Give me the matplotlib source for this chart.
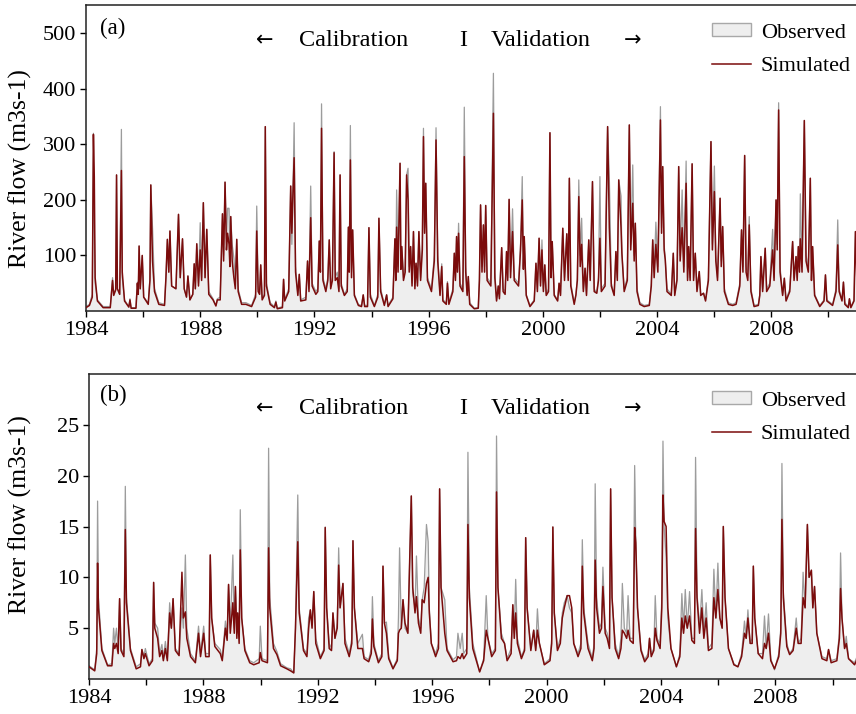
import matplotlib
matplotlib.use("Agg")
import matplotlib.pyplot as plt
from matplotlib.patches import Patch
from matplotlib.lines import Line2D

plt.rcParams["font.family"] = ["Liberation Serif", "DejaVu Serif"]

# panel (a): hydrograph vertices (decimal year, m3/s)
a_year = [
    1984.00, 1984.12, 1984.22, 1984.26, 1984.29, 1984.32, 1984.40, 1984.60,
    1984.85, 1984.93, 1984.97, 1985.04, 1985.07, 1985.10, 1985.18, 1985.24,
    1985.27, 1985.35, 1985.50, 1985.54, 1985.58, 1985.75, 1985.80, 1985.83,
    1985.86, 1985.90, 1985.97, 1986.02, 1986.18, 1986.24, 1986.27, 1986.33,
    1986.40, 1986.55, 1986.75, 1986.80, 1986.85, 1986.90, 1986.94, 1987.00,
    1987.15, 1987.24, 1987.30, 1987.38, 1987.44, 1987.52, 1987.57, 1987.64,
    1987.74, 1987.79, 1987.83, 1987.88, 1987.94, 1988.00, 1988.05, 1988.11,
    1988.17, 1988.23, 1988.30, 1988.45, 1988.55, 1988.60, 1988.70, 1988.78,
    1988.82, 1988.87, 1988.92, 1988.96, 1989.01, 1989.04, 1989.07, 1989.12,
    1989.18, 1989.23, 1989.28, 1989.33, 1989.45, 1989.60, 1989.80, 1989.94,
    1989.98, 1990.03, 1990.08, 1990.12, 1990.17, 1990.25, 1990.28, 1990.32,
    1990.45, 1990.60, 1990.65, 1990.70, 1990.88, 1990.92, 1990.96, 1991.10,
    1991.17, 1991.21, 1991.25, 1991.29, 1991.34, 1991.42, 1991.47, 1991.52,
    1991.70, 1991.76, 1991.81, 1991.87, 1991.92, 1992.05, 1992.12, 1992.17,
    1992.21, 1992.25, 1992.30, 1992.40, 1992.47, 1992.52, 1992.57, 1992.63,
    1992.69, 1992.73, 1992.80, 1992.86, 1992.90, 1992.94, 1993.05, 1993.15,
    1993.19, 1993.22, 1993.26, 1993.30, 1993.34, 1993.40, 1993.54, 1993.65,
    1993.71, 1993.76, 1993.86, 1993.91, 1993.96, 1994.10, 1994.22, 1994.26,
    1994.32, 1994.45, 1994.53, 1994.58, 1994.75, 1994.82, 1994.85, 1994.88,
    1994.93, 1995.00, 1995.03, 1995.06, 1995.12, 1995.18, 1995.23, 1995.28,
    1995.32, 1995.37, 1995.42, 1995.47, 1995.52, 1995.56, 1995.61, 1995.66,
    1995.72, 1995.78, 1995.82, 1995.86, 1995.90, 1995.96, 1996.10, 1996.20,
    1996.26, 1996.32, 1996.40, 1996.46, 1996.50, 1996.62, 1996.66, 1996.71,
    1996.85, 1996.90, 1996.94, 1996.98, 1997.01, 1997.05, 1997.10, 1997.20,
    1997.25, 1997.30, 1997.35, 1997.39, 1997.44, 1997.60, 1997.74, 1997.78,
    1997.82, 1997.87, 1997.92, 1997.96, 1998.00, 1998.05, 1998.18, 1998.27,
    1998.32, 1998.38, 1998.44, 1998.48, 1998.56, 1998.61, 1998.68, 1998.73,
    1998.77, 1998.82, 1998.87, 1998.94, 1999.00, 1999.15, 1999.22, 1999.28,
    1999.32, 1999.35, 1999.42, 1999.55, 1999.70, 1999.76, 1999.81, 1999.87,
    1999.92, 1999.97, 2000.02, 2000.07, 2000.12, 2000.20, 2000.25, 2000.29,
    2000.33, 2000.40, 2000.52, 2000.57, 2000.62, 2000.70, 2000.76, 2000.84,
    2000.89, 2000.93, 2000.98, 2001.10, 2001.16, 2001.21, 2001.26, 2001.31,
    2001.36, 2001.42, 2001.48, 2001.53, 2001.61, 2001.66, 2001.74, 2001.80,
    2001.89, 2001.95, 2002.00, 2002.05, 2002.18, 2002.27, 2002.33, 2002.40,
    2002.50, 2002.56, 2002.61, 2002.66, 2002.74, 2002.77, 2002.85, 2002.96,
    2003.03, 2003.08, 2003.15, 2003.20, 2003.24, 2003.30, 2003.40, 2003.55,
    2003.73, 2003.80, 2003.85, 2003.90, 2003.96, 2004.03, 2004.12, 2004.16,
    2004.20, 2004.25, 2004.29, 2004.35, 2004.50, 2004.57, 2004.62, 2004.70,
    2004.76, 2004.81, 2004.88, 2004.94, 2005.02, 2005.07, 2005.11, 2005.16,
    2005.23, 2005.28, 2005.34, 2005.40, 2005.48, 2005.53, 2005.63, 2005.70,
    2005.80, 2005.89, 2005.94, 2006.01, 2006.06, 2006.12, 2006.21, 2006.25,
    2006.30, 2006.36, 2006.50, 2006.65, 2006.77, 2006.90, 2006.96, 2007.01,
    2007.07, 2007.12, 2007.18, 2007.23, 2007.29, 2007.40, 2007.55, 2007.60,
    2007.64, 2007.70, 2007.79, 2007.84, 2007.95, 2008.05, 2008.10, 2008.17,
    2008.21, 2008.26, 2008.31, 2008.40, 2008.46, 2008.52, 2008.65, 2008.75,
    2008.80, 2008.87, 2008.91, 2008.95, 2008.99, 2009.02, 2009.08, 2009.16,
    2009.22, 2009.30, 2009.37, 2009.41, 2009.45, 2009.52, 2009.70, 2009.85,
    2009.90, 2009.95, 2010.15, 2010.27, 2010.33, 2010.38, 2010.48, 2010.53,
    2010.58, 2010.70, 2010.74, 2010.79, 2010.90, 2010.95, 2011.00,
]
a_obs = [
    8, 12, 30, 320, 150, 50, 20, 8,
    8, 60, 30, 40, 245, 40, 30, 327,
    60, 20, 8, 22, 6, 6, 52, 30,
    117, 40, 100, 25, 15, 60, 227, 150,
    40, 15, 12, 60, 129, 70, 144, 45,
    40, 174, 60, 130, 40, 25, 63, 20,
    30, 85, 40, 121, 50, 159, 60, 195,
    60, 147, 35, 22, 10, 22, 25, 175,
    100, 232, 130, 185, 185, 110, 170, 120,
    95, 50, 129, 40, 15, 15, 10, 30,
    189, 40, 30, 83, 25, 30, 332, 50,
    15, 8, 18, 5, 8, 57, 20, 40,
    225, 120, 215, 339, 80, 30, 66, 20,
    25, 90, 40, 225, 50, 35, 40, 126,
    80, 373, 60, 40, 60, 128, 45, 60,
    287, 60, 70, 40, 245, 50, 30, 40,
    151, 80, 334, 70, 146, 30, 12, 10,
    29, 10, 10, 150, 30, 10, 30, 167,
    40, 12, 29, 10, 25, 130, 60, 218,
    80, 266, 80, 116, 60, 80, 245, 257,
    80, 116, 50, 143, 45, 86, 50, 143,
    60, 120, 329, 150, 230, 60, 40, 100,
    330, 100, 30, 85, 20, 15, 53, 15,
    40, 104, 60, 134, 80, 158, 50, 40,
    367, 80, 30, 62, 15, 5, 6, 60,
    191, 80, 155, 80, 190, 60, 50, 428,
    70, 20, 45, 25, 114, 40, 35, 107,
    60, 201, 70, 184, 60, 50, 120, 242,
    80, 134, 30, 10, 20, 86, 40, 131,
    50, 128, 40, 83, 30, 40, 321, 70,
    125, 30, 20, 50, 30, 149, 60, 139,
    60, 239, 50, 15, 29, 60, 236, 100,
    167, 40, 77, 30, 128, 60, 233, 40,
    32, 60, 242, 40, 50, 332, 239, 50,
    30, 107, 60, 236, 207, 104, 40, 60,
    335, 120, 263, 100, 158, 40, 15, 10,
    12, 50, 128, 70, 160, 80, 368, 150,
    260, 120, 92, 40, 30, 104, 30, 60,
    260, 100, 218, 80, 270, 60, 116, 60,
    265, 60, 104, 40, 71, 30, 32, 20,
    60, 305, 120, 261, 100, 60, 203, 90,
    152, 40, 15, 12, 15, 50, 146, 80,
    280, 80, 60, 170, 40, 10, 12, 30,
    98, 40, 113, 40, 50, 147, 60, 200,
    120, 375, 80, 30, 59, 20, 40, 125,
    60, 98, 60, 116, 80, 211, 80, 343,
    100, 80, 239, 60, 116, 30, 10, 20,
    65, 20, 12, 40, 164, 40, 20, 52,
    15, 8, 22, 8, 20, 143, 60,
]
a_sim = [
    6, 10, 25, 318, 242, 60, 18, 6,
    6, 55, 28, 38, 245, 40, 30, 253,
    70, 18, 7, 20, 5, 5, 50, 30,
    117, 40, 100, 25, 12, 55, 227, 90,
    35, 12, 10, 60, 129, 70, 144, 45,
    40, 174, 60, 130, 40, 25, 63, 20,
    30, 85, 40, 121, 45, 110, 55, 195,
    60, 147, 30, 20, 9, 20, 20, 175,
    90, 232, 110, 140, 120, 80, 170, 90,
    60, 40, 129, 35, 12, 12, 8, 25,
    144, 35, 30, 83, 20, 28, 332, 45,
    12, 6, 16, 4, 6, 57, 18, 35,
    225, 140, 215, 276, 70, 28, 66, 18,
    20, 90, 35, 168, 45, 30, 35, 126,
    70, 329, 55, 35, 55, 128, 40, 55,
    285, 55, 60, 35, 245, 45, 28, 35,
    151, 70, 272, 60, 146, 28, 10, 8,
    29, 8, 8, 150, 25, 8, 25, 167,
    35, 10, 29, 8, 22, 130, 55, 151,
    70, 266, 75, 116, 55, 70, 245, 200,
    70, 116, 45, 143, 40, 86, 45, 143,
    55, 110, 314, 140, 230, 55, 35, 90,
    308, 90, 28, 80, 18, 12, 50, 12,
    35, 104, 55, 134, 70, 140, 45, 35,
    278, 70, 28, 62, 12, 4, 5, 55,
    191, 70, 155, 70, 190, 55, 45, 356,
    60, 18, 45, 22, 114, 35, 30, 107,
    55, 201, 60, 143, 55, 45, 110, 200,
    75, 134, 28, 8, 18, 86, 35, 131,
    45, 110, 35, 83, 28, 35, 321, 60,
    125, 28, 18, 50, 28, 149, 55, 139,
    55, 239, 45, 12, 29, 55, 206, 80,
    120, 35, 77, 28, 128, 55, 233, 35,
    32, 55, 131, 35, 45, 332, 150, 45,
    28, 107, 55, 236, 150, 104, 35, 55,
    335, 110, 194, 90, 158, 35, 12, 8,
    10, 45, 128, 60, 120, 70, 344, 140,
    260, 110, 92, 35, 28, 104, 28, 55,
    260, 90, 150, 70, 230, 55, 116, 55,
    265, 55, 104, 35, 71, 28, 32, 18,
    55, 305, 110, 215, 90, 55, 203, 80,
    152, 35, 12, 10, 12, 45, 146, 70,
    280, 70, 55, 155, 35, 8, 10, 28,
    98, 35, 113, 35, 45, 110, 55, 200,
    110, 362, 70, 28, 59, 18, 35, 125,
    55, 98, 55, 116, 70, 130, 70, 343,
    90, 70, 239, 55, 116, 28, 8, 18,
    65, 18, 10, 35, 119, 35, 18, 52,
    12, 6, 22, 6, 18, 143, 55,
]

# panel (b)
b_year = [
    1984.00, 1984.20, 1984.27, 1984.30, 1984.33, 1984.45, 1984.65, 1984.80,
    1984.86, 1984.90, 1984.96, 1985.02, 1985.07, 1985.12, 1985.22, 1985.27,
    1985.31, 1985.45, 1985.65, 1985.80, 1985.85, 1985.92, 1985.97, 1986.10,
    1986.22, 1986.26, 1986.30, 1986.40, 1986.47, 1986.55, 1986.60, 1986.67,
    1986.74, 1986.82, 1986.88, 1986.94, 1987.02, 1987.15, 1987.25, 1987.30,
    1987.37, 1987.42, 1987.55, 1987.72, 1987.83, 1987.90, 1988.01, 1988.08,
    1988.20, 1988.24, 1988.29, 1988.40, 1988.59, 1988.66, 1988.77, 1988.83,
    1988.88, 1988.94, 1989.03, 1989.08, 1989.12, 1989.17, 1989.20, 1989.25,
    1989.29, 1989.34, 1989.45, 1989.62, 1989.76, 1989.95, 1989.99, 1990.05,
    1990.24, 1990.28, 1990.32, 1990.45, 1990.57, 1990.70, 1990.92, 1991.05,
    1991.16, 1991.22, 1991.30, 1991.35, 1991.50, 1991.62, 1991.68, 1991.74,
    1991.80, 1991.86, 1991.93, 1992.09, 1992.22, 1992.26, 1992.31, 1992.40,
    1992.48, 1992.53, 1992.60, 1992.68, 1992.73, 1992.78, 1992.88, 1992.95,
    1993.10, 1993.19, 1993.23, 1993.28, 1993.40, 1993.56, 1993.62, 1993.78,
    1993.87, 1993.91, 1993.96, 1994.12, 1994.24, 1994.28, 1994.33, 1994.40,
    1994.48, 1994.63, 1994.78, 1994.82, 1994.86, 1994.92, 1994.98, 1995.05,
    1995.15, 1995.27, 1995.32, 1995.40, 1995.45, 1995.52, 1995.60, 1995.65,
    1995.72, 1995.80, 1995.86, 1995.90, 1995.97, 1996.12, 1996.22, 1996.26,
    1996.31, 1996.44, 1996.52, 1996.73, 1996.85, 1996.90, 1996.98, 1997.05,
    1997.10, 1997.21, 1997.25, 1997.30, 1997.42, 1997.66, 1997.80, 1997.89,
    1997.95, 1998.08, 1998.21, 1998.25, 1998.30, 1998.42, 1998.53, 1998.62,
    1998.76, 1998.82, 1998.87, 1998.92, 1998.98, 1999.12, 1999.23, 1999.27,
    1999.32, 1999.45, 1999.55, 1999.62, 1999.68, 1999.75, 1999.92, 2000.12,
    2000.18, 2000.22, 2000.27, 2000.38, 2000.48, 2000.55, 2000.62, 2000.72,
    2000.80, 2000.88, 2000.95, 2001.10, 2001.20, 2001.25, 2001.30, 2001.45,
    2001.60, 2001.66, 2001.70, 2001.75, 2001.85, 2001.92, 2001.97, 2002.05,
    2002.12, 2002.20, 2002.24, 2002.29, 2002.40, 2002.52, 2002.60, 2002.65,
    2002.72, 2002.80, 2002.85, 2002.92, 2003.03, 2003.08, 2003.12, 2003.18,
    2003.30, 2003.43, 2003.55, 2003.60, 2003.66, 2003.75, 2003.80, 2003.86,
    2003.97, 2004.03, 2004.07, 2004.11, 2004.18, 2004.24, 2004.35, 2004.54,
    2004.66, 2004.73, 2004.79, 2004.85, 2004.92, 2005.00, 2005.08, 2005.17,
    2005.21, 2005.26, 2005.35, 2005.43, 2005.50, 2005.58, 2005.66, 2005.78,
    2005.85, 2005.92, 2005.99, 2006.06, 2006.14, 2006.18, 2006.24, 2006.36,
    2006.55, 2006.69, 2006.82, 2006.92, 2006.98, 2007.04, 2007.12, 2007.19,
    2007.23, 2007.28, 2007.40, 2007.55, 2007.62, 2007.68, 2007.76, 2007.84,
    2007.97, 2008.12, 2008.19, 2008.23, 2008.28, 2008.40, 2008.50, 2008.62,
    2008.73, 2008.80, 2008.90, 2008.97, 2009.04, 2009.12, 2009.18, 2009.26,
    2009.31, 2009.37, 2009.45, 2009.63, 2009.80, 2009.86, 2009.95, 2010.15,
    2010.24, 2010.28, 2010.33, 2010.42, 2010.48, 2010.56, 2010.77, 2010.90,
    2010.97, 2011.00,
]
b_obs = [
    1.3, 0.9, 3.0, 17.5, 8.0, 3.0, 1.4, 1.5,
    5.0, 3.5, 5.0, 3.0, 7.9, 3.0, 2.5, 18.95,
    8.0, 3.0, 1.2, 1.5, 2.9, 2.2, 3.0, 1.5,
    2.0, 9.5, 5.5, 5.0, 2.5, 3.4, 2.0, 3.7,
    2.0, 7.5, 5.0, 7.9, 3.0, 2.5, 7.0, 5.0,
    12.2, 5.0, 2.5, 1.8, 5.2, 2.5, 5.2, 2.5,
    2.5, 12.2, 6.0, 3.5, 2.9, 2.0, 5.7, 4.0,
    9.3, 5.0, 12.2, 5.0, 9.1, 4.5, 6.5, 4.0,
    16.65, 6.0, 3.0, 1.8, 1.6, 2.0, 5.2, 2.0,
    1.8, 22.7, 8.0, 3.5, 2.7, 1.5, 1.1, 1.0,
    0.6, 5.0, 18.1, 7.0, 3.0, 2.5, 6.0, 6.8,
    5.5, 8.6, 4.0, 2.2, 3.0, 14.95, 7.0, 3.5,
    3.0, 6.5, 4.0, 5.5, 12.9, 7.0, 9.4, 4.0,
    2.5, 4.0, 13.6, 7.0, 3.5, 4.4, 2.2, 1.9,
    3.0, 8.1, 3.5, 1.8, 2.5, 11.1, 5.5, 5.6,
    2.2, 1.1, 2.0, 6.0, 12.9, 5.0, 7.8, 5.0,
    4.5, 18.0, 8.5, 7.0, 12.1, 6.0, 5.0, 7.8,
    9.0, 15.2, 13.5, 7.0, 3.5, 2.5, 3.5, 18.7,
    9.0, 7.8, 3.0, 1.9, 2.2, 4.5, 3.0, 4.5,
    2.5, 3.0, 22.3, 9.0, 3.5, 0.7, 2.0, 8.2,
    4.0, 2.5, 3.0, 23.9, 9.0, 4.5, 3.5, 2.0,
    3.0, 7.3, 4.5, 9.8, 4.0, 2.2, 3.0, 13.9,
    7.0, 3.0, 4.8, 3.0, 6.9, 3.5, 1.5, 2.0,
    4.0, 14.95, 6.5, 3.0, 4.0, 6.5, 7.5, 8.2,
    7.0, 6.5, 3.5, 2.5, 3.5, 13.7, 7.0, 3.5,
    2.0, 3.5, 19.2, 8.0, 5.0, 5.5, 11.0, 5.0,
    4.5, 3.5, 18.7, 8.0, 3.5, 2.2, 4.0, 9.4,
    5.0, 4.5, 8.2, 4.0, 4.0, 21.0, 13.4, 7.0,
    3.0, 1.9, 2.5, 4.0, 2.5, 3.0, 8.2, 4.0,
    3.5, 8.0, 23.4, 15.0, 12.0, 6.0, 3.0, 1.2,
    2.5, 8.4, 5.0, 8.8, 5.0, 8.6, 4.0, 4.0,
    21.8, 8.5, 5.0, 8.8, 4.5, 7.5, 3.0, 3.5,
    10.8, 6.0, 11.4, 6.0, 5.0, 15.0, 8.0, 3.0,
    1.5, 1.2, 2.5, 5.7, 4.0, 6.8, 3.5, 4.0,
    11.1, 6.0, 2.5, 2.5, 6.2, 3.0, 6.4, 2.0,
    0.9, 2.5, 5.0, 21.2, 8.5, 3.5, 2.5, 3.0,
    6.0, 3.5, 4.0, 10.5, 7.0, 15.2, 10.0, 10.7,
    7.0, 9.1, 4.5, 2.2, 2.0, 2.9, 1.8, 2.0,
    4.5, 12.4, 6.0, 3.0, 4.2, 2.0, 1.6, 2.5,
    5.0, 3.5,
]
b_sim = [
    1.2, 0.8, 2.5, 11.4, 7.0, 2.8, 1.3, 1.3,
    3.5, 3.0, 3.5, 2.5, 7.9, 2.8, 2.2, 14.7,
    7.5, 2.8, 1.0, 1.2, 2.9, 2.0, 2.5, 1.3,
    1.8, 9.5, 5.0, 4.0, 2.2, 2.8, 1.8, 3.0,
    1.8, 6.5, 5.0, 7.9, 2.8, 2.3, 10.5, 6.0,
    6.6, 4.0, 2.2, 1.6, 4.5, 2.2, 4.5, 2.2,
    2.2, 12.2, 6.0, 3.2, 2.5, 1.8, 5.0, 3.8,
    9.3, 4.5, 7.5, 4.5, 9.1, 4.0, 6.5, 3.5,
    12.7, 6.0, 2.8, 1.6, 1.4, 1.6, 2.6, 1.8,
    1.6, 12.9, 7.0, 3.0, 2.4, 1.3, 1.0, 0.8,
    0.6, 5.0, 13.5, 6.5, 2.8, 2.2, 5.0, 6.8,
    5.0, 8.6, 3.5, 2.0, 2.8, 14.9, 7.0, 3.0,
    2.8, 6.5, 4.0, 5.0, 11.2, 7.0, 9.4, 3.5,
    2.2, 3.5, 13.6, 7.0, 3.0, 3.0, 2.0, 1.7,
    2.5, 5.9, 3.2, 1.6, 2.2, 11.1, 5.5, 4.5,
    2.0, 1.0, 1.8, 4.5, 4.8, 5.0, 7.8, 5.5,
    4.5, 18.0, 9.0, 6.5, 8.1, 5.5, 4.5, 7.8,
    7.5, 9.4, 10.0, 6.5, 3.5, 2.2, 3.0, 18.7,
    9.0, 4.5, 2.8, 1.7, 1.8, 2.2, 2.0, 2.5,
    2.0, 2.5, 15.2, 8.0, 3.0, 0.7, 1.8, 4.8,
    4.0, 2.2, 2.8, 18.4, 9.0, 4.0, 3.5, 1.8,
    2.5, 7.3, 4.0, 6.5, 3.5, 2.0, 2.8, 13.9,
    7.0, 2.8, 4.8, 2.8, 4.8, 3.5, 1.4, 1.8,
    3.5, 14.95, 6.5, 2.8, 3.5, 6.0, 7.0, 8.2,
    8.2, 7.0, 3.5, 2.2, 3.0, 11.1, 6.5, 3.0,
    1.8, 3.0, 11.7, 7.0, 4.5, 5.0, 9.1, 4.5,
    4.0, 3.0, 18.7, 8.0, 3.0, 2.0, 3.0, 4.8,
    4.5, 4.0, 4.8, 3.8, 3.5, 14.9, 13.4, 7.0,
    2.8, 1.7, 2.2, 4.0, 2.2, 2.8, 5.0, 3.8,
    3.0, 7.0, 18.1, 15.5, 15.0, 7.0, 3.0, 1.2,
    2.2, 6.0, 4.5, 6.2, 5.0, 6.2, 3.8, 3.5,
    14.8, 8.0, 4.5, 7.0, 4.0, 6.0, 2.8, 3.0,
    8.0, 6.0, 8.8, 6.0, 5.0, 15.0, 8.0, 3.0,
    1.4, 1.2, 2.2, 4.5, 4.0, 6.0, 3.5, 3.5,
    11.1, 6.0, 2.5, 2.0, 3.5, 3.0, 4.5, 1.8,
    1.0, 2.2, 4.5, 15.7, 8.0, 3.2, 2.4, 2.8,
    5.0, 3.5, 3.5, 8.0, 7.0, 15.2, 10.0, 10.7,
    7.0, 9.1, 4.5, 2.0, 1.8, 2.9, 1.6, 1.8,
    4.0, 8.9, 6.0, 3.0, 3.5, 2.0, 1.4, 2.2,
    4.5, 3.0,
]

a_yticks = [100, 200, 300, 400, 500]
b_yticks = [5, 10, 15, 20, 25]
x_ticks = list(range(1984, 2011, 2))
x_labels = [str(y) if (y - 1984) % 4 == 0 else "" for y in x_ticks]

OBS_FILL = "#eeeeee"
OBS_LINE = "#9c9c9c"
SIM_COLOR = "#7b0c0c"

W, H = 856, 714


def fx(px):
    return px / W


def fy(py):
    return 1 - py / H


def plot_panel(ax, year, obs, sim, ymax, yticks, xmax):
    assert len(year) == len(obs) == len(sim)
    ax.fill_between(year, 0, obs, color=OBS_FILL, lw=0, zorder=1)
    ax.plot(year, obs, color=OBS_LINE, lw=0.9, zorder=2)
    ax.plot(year, sim, color=SIM_COLOR, lw=1.1, zorder=3)
    ax.set_xlim(1984, xmax)
    ax.set_ylim(0, ymax)
    ax.set_yticks(yticks)
    ax.set_xticks(x_ticks)
    ax.set_xticklabels(x_labels)
    ax.tick_params(direction="out", length=4, width=1, labelsize=16, pad=3)
    ax.spines["right"].set_visible(False)
    for s in ("left", "bottom", "top"):
        ax.spines[s].set_linewidth(1.1)
        ax.spines[s].set_color("#222222")
    ax.set_ylabel("River flow (m3s-1)", fontsize=18.5)


def annotate(ax, tag, tag_y, text_y, legend_top):
    fig.text(fx(100), fy(tag_y), tag, fontsize=16.5, va="center")
    for x, s in [(354, "Calibration"), (463, "I"), (541, "Validation")]:
        fig.text(fx(x), fy(text_y), s, fontsize=17.5, ha="center", va="center")
    for x, s in [(265, "\u2190"), (633, "\u2192")]:
        fig.text(fx(x), fy(text_y), s, fontsize=15, ha="center", va="center",
                 family="DejaVu Sans")
    handles = [
        Patch(facecolor=OBS_FILL, edgecolor="#a8a8a8", lw=1.0),
        Line2D([], [], color=SIM_COLOR, lw=1.1),
    ]
    ax.legend(handles, ["Observed", "Simulated"], loc="upper left",
              bbox_to_anchor=(fx(712), fy(legend_top)),
              bbox_transform=fig.transFigure, frameon=False, fontsize=16,
              handlelength=1.75, handleheight=0.55, handletextpad=0.45,
              labelspacing=0.62, borderpad=0, borderaxespad=0)


fig = plt.figure(figsize=(W / 100, H / 100), dpi=100)

ax_a = fig.add_axes([fx(86), fy(311), 1 - fx(86), (311 - 5) / H])
plot_panel(ax_a, a_year, a_obs, a_sim, 551, a_yticks, 2010.97)
ax_a.yaxis.set_label_coords(-0.07, 0.466)
annotate(ax_a, "(a)", 28, 40, 23)

ax_b = fig.add_axes([fx(89), fy(679), 1 - fx(89), (679 - 374) / H])
plot_panel(ax_b, b_year, b_obs, b_sim, 30, b_yticks, 2010.82)
ax_b.yaxis.set_label_coords(-0.074, 0.538)
annotate(ax_b, "(b)", 395, 408, 391)

fig.savefig("out.png", dpi=100)
